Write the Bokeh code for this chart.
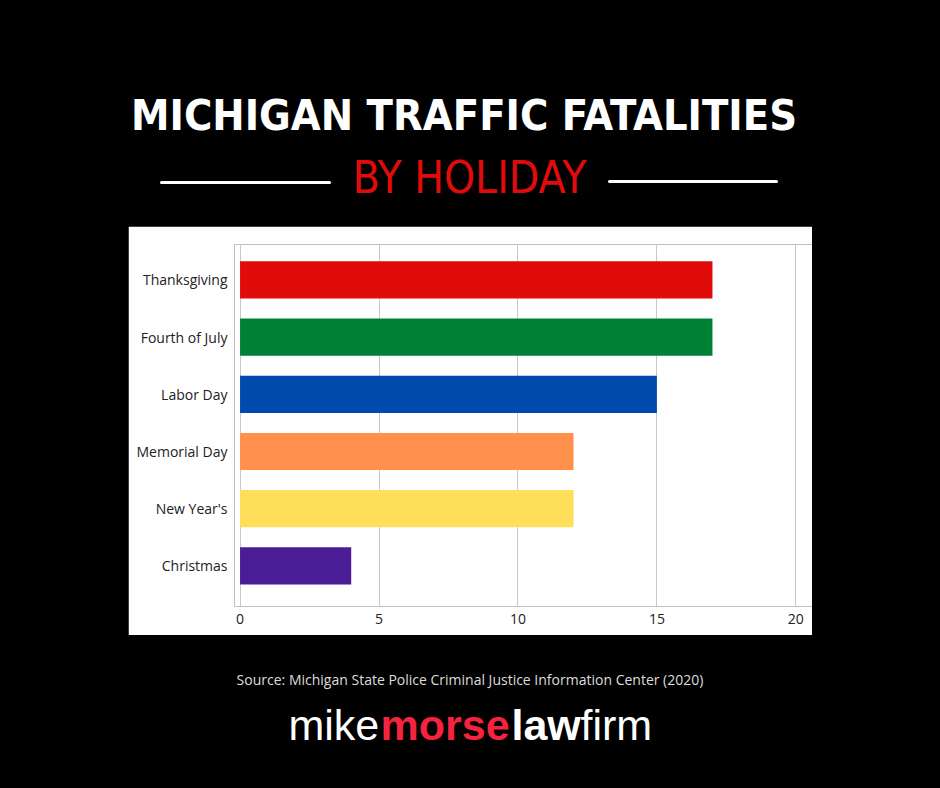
from bokeh.plotting import figure
from bokeh.models import Range1d, Spacer, FixedTicker
from bokeh.layouts import column, row
from bokeh.core.properties import value
from bokeh.embed import file_html
from bokeh.resources import INLINE

# ---------------- data ----------------
categories = ["Thanksgiving", "Fourth of July", "Labor Day", "Memorial Day", "New Year's", "Christmas"]
fatalities = [17, 17, 15, 12, 12, 4]
bar_colors = ["#E10B0B", "#008037", "#004AAD", "#FF914D", "#FFDE59", "#4A1C96"]
x_ticks = [0, 5, 10, 15, 20]

title_line1 = "MICHIGAN TRAFFIC FATALITIES"
title_line2 = "BY HOLIDAY"
source_text = "Source: Michigan State Police Criminal Justice Information Center (2020)"
logo_parts = ["mike", "morse", "law", "firm"]
logo_styles = ["normal", "bold", "bold", "normal"]
logo_colors = ["#FFFFFF", "#F5233D", "#FFFFFF", "#FFFFFF"]

BG = "#000000"
NARROW = "DejaVu Sans Condensed"

# ---------------- header ----------------
header = figure(width=924, height=218, x_range=Range1d(8, 932), y_range=Range1d(226, 8),
                x_axis_type=None, y_axis_type=None, output_backend="svg",
                toolbar_location=None, min_border=0)
header.background_fill_color = BG
header.border_fill_color = BG
header.outline_line_color = None
header.grid.visible = False

header.text(x=[463.5], y=[114.5], text=[title_line1], text_font=value(NARROW),
            text_font_style="bold", text_font_size="43px", text_color="#FFFFFF",
            text_align="center", text_baseline="middle")
header.text(x=[469], y=[177], text=[title_line2], text_font=value(NARROW),
            text_font_style="normal", text_font_size="44px", text_color="#E10B0B",
            text_align="center", text_baseline="middle")
header.segment(x0=[161, 609], y0=[182, 181], x1=[329, 776], y1=[182, 181],
               line_color="#FFFFFF", line_width=3, line_cap="round")

# ---------------- chart ----------------
ypos = [len(categories) - 1 - i for i in range(len(categories))]
chart = figure(width=684, height=409, x_range=Range1d(-0.2, 20.6), y_range=Range1d(-0.71, 5.62),
               output_backend="svg", toolbar_location=None,
               min_border_left=106, min_border_right=0, min_border_top=18, min_border_bottom=29)
chart.background_fill_color = "#FFFFFF"
chart.border_fill_color = "#FFFFFF"
chart.outline_line_color = None

chart.hbar(y=ypos, left=0, right=fatalities, height=0.65, fill_color=bar_colors, line_color=None)

chart.xaxis.ticker = FixedTicker(ticks=x_ticks)
chart.yaxis.ticker = FixedTicker(ticks=ypos)
chart.yaxis.major_label_overrides = {y: c for y, c in zip(ypos, categories)}

for ax in (chart.xaxis[0], chart.yaxis[0]):
    ax.axis_line_color = None
    ax.major_tick_line_color = None
    ax.minor_tick_line_color = None
    ax.major_tick_out = 0
    ax.major_tick_in = 0
    ax.major_label_text_font = "Open Sans"
    ax.major_label_text_font_size = "14px"
    ax.major_label_text_color = "#222222"
chart.xaxis.major_label_standoff = 7
chart.yaxis.major_label_standoff = 7

chart.ygrid.visible = False
chart.xgrid.grid_line_color = "#C8C8C8"
chart.xgrid.grid_line_width = 1

# ---------------- footer ----------------
footer = figure(width=924, height=145, x_range=Range1d(8, 932), y_range=Range1d(780, 635),
                x_axis_type=None, y_axis_type=None, output_backend="svg",
                toolbar_location=None, min_border=0)
footer.background_fill_color = BG
footer.border_fill_color = BG
footer.outline_line_color = None
footer.grid.visible = False

footer.text(x=[469.5], y=[679], text=[source_text], text_font=value("Open Sans"),
            text_font_size="14px", text_color="#DDDDDD", text_align="center",
            text_baseline="middle")

logo_x = [288, 380, 511, 580]
for part, st, col, lx in zip(logo_parts, logo_styles, logo_colors, logo_x):
    footer.text(x=[lx], y=[724], text=[part], text_font=value("Liberation Sans"),
                text_font_style=st, text_font_size="43px", text_color=col,
                text_align="left", text_baseline="middle")

layout = column(header,
                row(Spacer(width=120, height=409), chart, Spacer(width=120, height=409)),
                footer)

html = file_html(layout, INLINE, title="Michigan Traffic Fatalities by Holiday")
html = html.replace("</head>",
                    "<style>html, body {background:#000000 !important;} "
                    "body {margin:8px !important; height:auto !important;}</style></head>", 1)
open("out.html", "w").write(html)
